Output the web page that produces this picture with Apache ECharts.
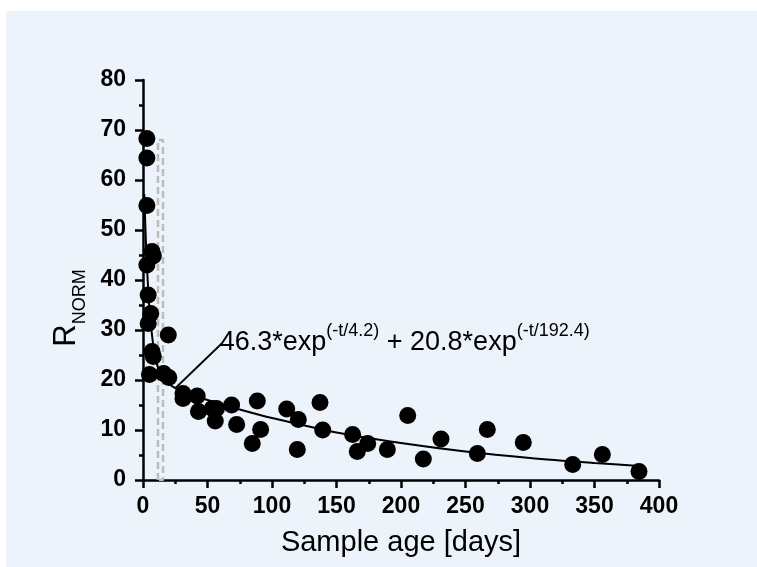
<!DOCTYPE html>
<html><head><meta charset="utf-8">
<script src="https://cdn.jsdelivr.net/npm/echarts@6/dist/echarts.min.js"></script>
<style>html,body{margin:0;padding:0;background:#fff}#c{width:757px;height:567px}</style>
</head><body><div id="c"></div>
<script>
// measured sample points [age in days, R_NORM]
const sampleAge = [3,3,3,7,8,3,4,6,4,7,8,5,19.6,16,20,31,31,42,43,53.7,57,56,68.7,72.6,84.7,88.6,91.2,111.4,120.4,119.6,137.2,139.3,162.5,166.1,174.2,189.4,205.2,217.3,231,259.2,266.9,294.8,333.1,356.1,384.5];
const rNorm     = [68.3,64.4,54.9,45.7,44.8,43,37,33.3,31.3,25.7,24.7,21.1,29,21.3,20.5,17.3,16.3,16.8,13.7,14.3,14.3,11.8,15,11.1,7.3,15.8,10.1,14.2,12.1,6.1,15.5,10,9.1,5.7,7.3,6.1,12.9,4.2,8.2,5.3,10.1,7.5,3.1,5.1,1.7];
// fitted curve
const fitAge = [1,2,3,4,5,6,8,10,12,15,20,25,30,40,50,75,100,150,200,250,300,350,385];
const fitVal = [57.2,49.4,43.2,38.2,34.3,31.3,26.9,24.0,22.2,20.5,19.2,18.4,17.8,16.9,16.0,14.1,12.4,9.5,7.4,5.7,4.4,3.4,2.8];
// dashed highlight window
const boxAge = [11.6,11.6,15.5,15.5,11.6];
const boxVal = [0,68,68,0,0];
// annotation leader line
const leaderAge = [25.6,61];
const leaderVal = [18.5,27.3];
const xTicks = [0,50,100,150,200,250,300,350,400];
const yTicks = [0,10,20,30,40,50,60,70,80];

const FONT = 'Liberation Sans, Arial, sans-serif';
const chart = echarts.init(document.getElementById('c'), null, {renderer:'canvas'});
const axisCommon = {
  axisLine:{show:true,onZero:false,lineStyle:{color:'#000',width:2.5}},
  axisTick:{show:true,inside:false,length:8,lineStyle:{color:'#000',width:2.5}},
  minorTick:{show:true,splitNumber:2,length:4,lineStyle:{color:'#000',width:2.5}},
  splitLine:{show:false},
  axisLabel:{color:'#000',fontFamily:FONT,fontSize:23,fontWeight:'bold'}
};
chart.setOption({
  backgroundColor:'#ffffff',
  animation:false,
  graphic:[
    {type:'rect',shape:{x:6,y:11,width:760,height:570},style:{fill:'#edf3fb'},z:-10,silent:true},
    {type:'text',x:70,y:308,rotation:Math.PI/2,
     style:{text:'{r|R}{s|NORM}',align:'center',verticalAlign:'middle',fontFamily:FONT,
       rich:{r:{fontSize:31,fill:'#000',fontFamily:FONT,verticalAlign:'top',lineHeight:38},
             s:{fontSize:18,fill:'#000',fontFamily:FONT,verticalAlign:'bottom',lineHeight:38,padding:[12,0,0,0]}}}}
  ],
  grid:{left:143,right:98,top:80,bottom:87,containLabel:false},
  xAxis:Object.assign({},axisCommon,{
    type:'value',min:xTicks[0],max:xTicks[xTicks.length-1],interval:50,
    name:'Sample age [days]',nameLocation:'middle',nameGap:48,
    nameTextStyle:{color:'#000',fontFamily:FONT,fontSize:29,verticalAlign:'top'},
    axisLabel:Object.assign({},axisCommon.axisLabel,{margin:15})
  }),
  yAxis:Object.assign({},axisCommon,{
    type:'value',min:yTicks[0],max:yTicks[yTicks.length-1],interval:10,
    axisLabel:Object.assign({},axisCommon.axisLabel,{margin:17})
  }),
  series:[
    {type:'line',data:boxAge.map((a,i)=>[a,boxVal[i]]),symbol:'none',z:1,
     lineStyle:{color:'#bdbdbd',width:2.5,type:[7,4]}},
    {type:'line',data:fitAge.map((a,i)=>[a,fitVal[i]]),symbol:'none',smooth:0.3,z:2,
     lineStyle:{color:'#000',width:2}},
    {type:'line',data:leaderAge.map((a,i)=>[a,leaderVal[i]]),symbol:'none',z:2,
     lineStyle:{color:'#000',width:1.8},
     endLabel:{show:true,distance:0,offset:[-2,-4],align:'left',verticalAlign:'middle',
       formatter:'{m|46.3*exp}{u|(-t/4.2)}{m| + 20.8*exp}{u|(-t/192.4)}',
       rich:{m:{fontSize:27,color:'#000',fontFamily:FONT,verticalAlign:'bottom',lineHeight:34},
             u:{fontSize:18,color:'#000',fontFamily:FONT,verticalAlign:'top',lineHeight:34}}}},
    {type:'scatter',data:sampleAge.map((a,i)=>[a,rNorm[i]]),symbol:'circle',symbolSize:17,z:3,
     itemStyle:{color:'#000',opacity:1}}
  ]
});
</script></body></html>
